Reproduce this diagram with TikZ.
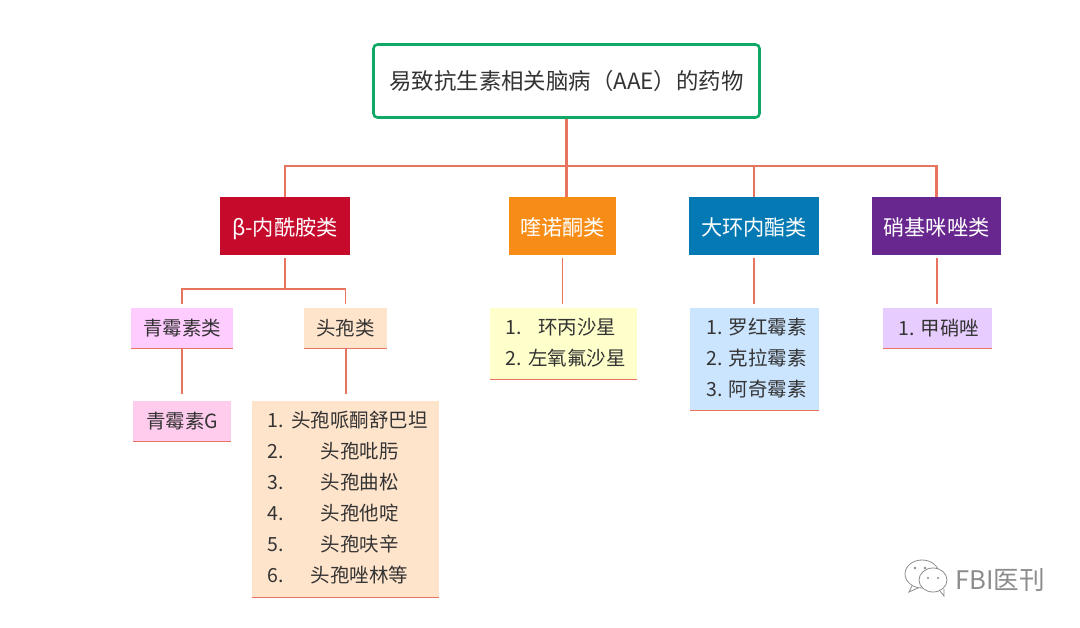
\documentclass[tikz,border=0pt]{standalone}
\usepackage{fontspec}
\setmainfont{Noto Sans CJK SC}
\usepackage{array}
\definecolor{linkred}{HTML}{E8735F}
\definecolor{rootgreen}{HTML}{10A866}
\definecolor{betared}{HTML}{C50A2B}
\definecolor{quinorange}{HTML}{F78D16}
\definecolor{macroblue}{HTML}{0479B3}
\definecolor{nitropurple}{HTML}{68268F}
\definecolor{penpink}{HTML}{FFCCFF}
\definecolor{pengpink}{HTML}{FFCCEE}
\definecolor{cephpeach}{HTML}{FFE4CC}
\definecolor{quinyellow}{HTML}{FFFFCC}
\definecolor{macrosky}{HTML}{CCE5FF}
\definecolor{nitrolilac}{HTML}{E6CCFF}
\definecolor{inkgray}{HTML}{333333}
\definecolor{markgray}{HTML}{8C8C8C}
\tikzset{
  link/.style={draw=linkred,line width=2pt},
  head/.style={anchor=center,inner sep=0pt,text=white,text height=22pt,text depth=3pt,font=\fontsize{21.2}{25}\selectfont},
  sub/.style={anchor=center,inner sep=0pt,text=inkgray,font=\fontsize{19.5}{31}\selectfont},
  edge/.style={draw=linkred,line width=1.2pt}
}
\begin{document}
\begin{tikzpicture}[x=1pt, y=-1pt]
\useasboundingbox (0,0) rectangle (1080,628);

% Root
\node[draw=rootgreen,line width=2.6pt,rounded corners=4pt,fill=white,minimum width=386pt,minimum height=73pt,inner sep=0pt,
  text=inkgray,font=\fontsize{22.4}{27}\selectfont] (root) at (566.5,81) {易致抗生素相关脑病（AAE）的药物};

% Classes
\node[head,fill=betared,minimum width=130pt,minimum height=58pt] (beta) at (285,226) {β-内酰胺类};
\node[head,fill=quinorange,minimum width=107pt,minimum height=58pt] (quin) at (562.5,226) {喹诺酮类};
\node[head,fill=macroblue,minimum width=130pt,minimum height=58pt] (macro) at (754,226) {大环内酯类};
\node[head,fill=nitropurple,minimum width=129pt,minimum height=58pt] (nitro) at (936.5,226) {硝基咪唑类};

% Second row
\node[sub,fill=penpink,minimum width=102pt,minimum height=40pt] (pen) at (182,328) {青霉素类};
\node[sub,fill=cephpeach,minimum width=83pt,minimum height=40pt] (ceph) at (345.5,328) {头孢类};
\node[sub,fill=pengpink,minimum width=98pt,minimum height=40pt] (peng) at (182,421) {青霉素G};

% Lists
\node[sub,fill=cephpeach,minimum width=187pt,minimum height=196pt] (cephlist) at (345.5,499) {%
  \begin{tabular}{@{\hspace{5pt}}l@{\hspace{7pt}}>{\centering\arraybackslash}p{138pt}@{}}
  1. & 头孢哌酮舒巴坦\\ 2. & 头孢吡肟\\ 3. & 头孢曲松\\ 4. & 头孢他啶\\ 5. & 头孢呋辛\\ 6. & 头孢唑林等
  \end{tabular}};
\node[sub,fill=quinyellow,minimum width=147pt,minimum height=71pt] (quinlist) at (563.5,343.5) {%
  \begin{tabular}{@{\hspace{5pt}}l@{\hspace{6pt}}>{\centering\arraybackslash}p{98pt}@{}}
  1. & 环丙沙星\\ 2. & 左氧氟沙星
  \end{tabular}};
\node[sub,fill=macrosky,minimum width=129pt,minimum height=102pt] (macrolist) at (754.5,359) {%
  \begin{tabular}{@{\hspace{4pt}}l@{\hspace{6pt}}l@{}}
  1. & 罗红霉素\\ 2. & 克拉霉素\\ 3. & 阿奇霉素
  \end{tabular}};
\node[sub,fill=nitrolilac,minimum width=109pt,minimum height=40pt] (nitrolist) at (937.5,328) {\hspace{3pt}1.\hspace{6pt}甲硝唑};

% Bottom edges
\foreach \boxname in {pen,ceph,peng,cephlist,quinlist,macrolist,nitrolist}
  \draw[edge] (\boxname.south west) -- (\boxname.south east);

% Tree
\coordinate (bus) at (566.5,166);
\draw[link,line width=2.4pt] (root.south -| bus) -- (bus);
\draw[link,line width=2.4pt] (beta.north) |- (bus) -| (nitro.north);
\draw[link,line width=2.4pt] (bus) -- (bus |- quin.north);
\draw[link,line width=2.4pt] (macro.north) -- (macro.north |- bus);

\coordinate (split) at (285,289);
\draw[link] ([yshift=-3pt]beta.south) -- (split);
\draw[link,line width=1.6pt] ([yshift=4pt]pen.north) |- (split) -| ([yshift=4pt]ceph.north);
\draw[link] ([yshift=-1pt]pen.south) -- ([yshift=7pt]pen.south |- peng.north);
\draw[link] ([yshift=-1pt]ceph.south) -- ([yshift=7pt]ceph.south |- cephlist.north);

\draw[link,line width=1.6pt] ([yshift=-3pt]quin.south) -- ([yshift=4pt]quin.south |- quinlist.north);
\draw[link] ([yshift=-3pt]macro.south) -- ([yshift=4pt]macro.south |- macrolist.north);
\draw[link] ([yshift=-3pt]nitro.south) -- ([yshift=4pt]nitro.south |- nitrolist.north);

% Watermark
\draw[markgray,line width=0.8pt,fill=white] (922,574) ellipse (17pt and 14pt);
\draw[markgray,line width=0.8pt] (912,586) -- (909,592) -- (918,588);
\draw[markgray,line width=0.8pt,fill=white] (933,580) ellipse (14pt and 12pt);
\draw[markgray,line width=0.8pt] (940,591) -- (944,596) -- (944,589);
\fill[markgray] (915,568) circle (1.4pt) (925,568) circle (1.4pt) (928,578) circle (1.2pt) (938,578) circle (1.2pt);
\node[anchor=west,inner sep=0pt,text=markgray,font=\fontsize{25.6}{30}\selectfont] (mark) at (955,580) {FBI医刊};
\end{tikzpicture}
\end{document}
